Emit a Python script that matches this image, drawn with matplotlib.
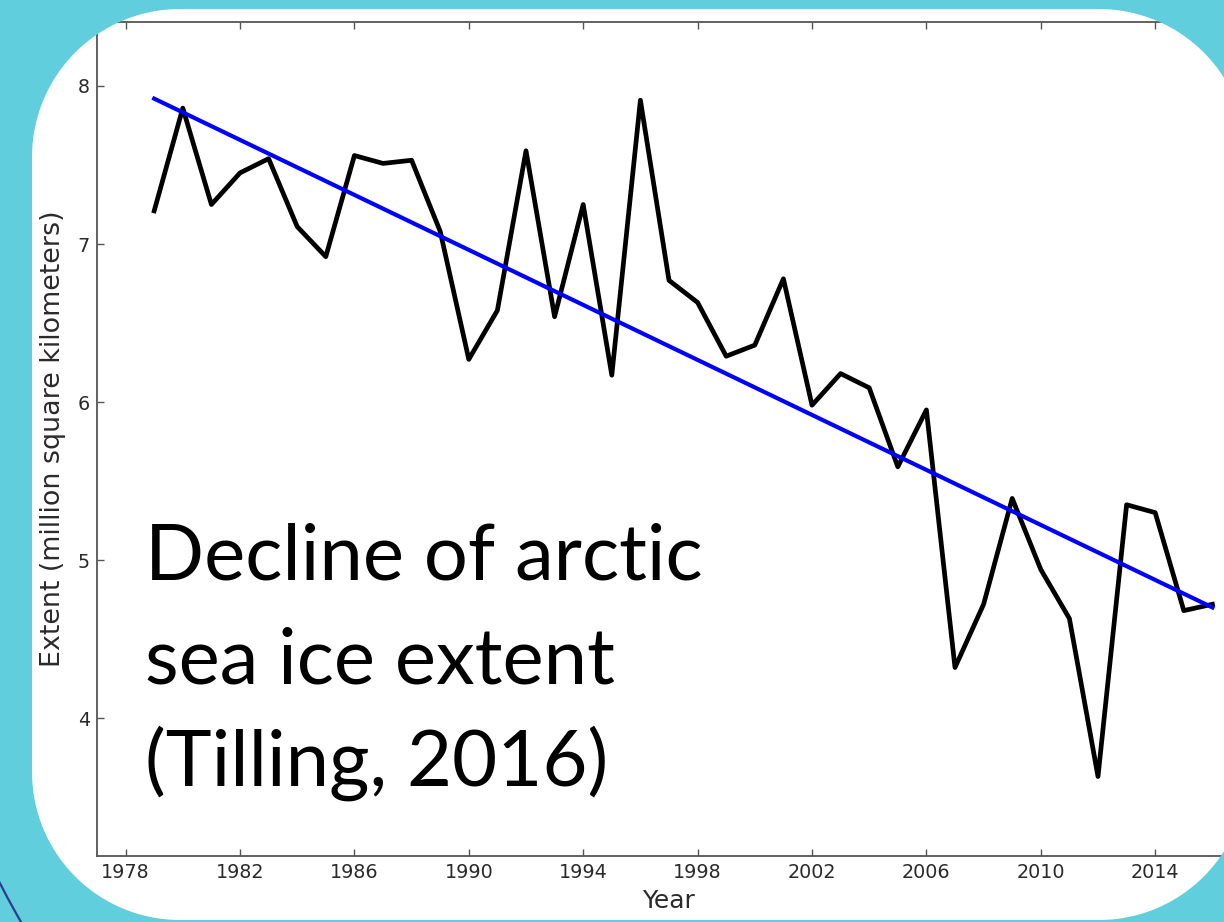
import matplotlib
matplotlib.use("Agg")
import numpy as np
import matplotlib.pyplot as plt
from matplotlib.path import Path
from matplotlib.patches import PathPatch, Arc

# ---------------- data ----------------
years = list(range(1979, 2017))
extent = [7.21, 7.86, 7.25, 7.45, 7.54, 7.11, 6.92, 7.56, 7.51, 7.53,
          7.08, 6.27, 6.58, 7.59, 6.54, 7.25, 6.17, 7.91, 6.77, 6.63,
          6.29, 6.36, 6.78, 5.98, 6.18, 6.09, 5.59, 5.95, 4.32, 4.72,
          5.39, 4.94, 4.63, 3.63, 5.35, 5.30, 4.68, 4.72]
trend_years = [1979, 2016]
trend_values = [7.92, 4.70]
xtick_values = [1978, 1982, 1986, 1990, 1994, 1998, 2002, 2006, 2010, 2014]
ytick_values = [4, 5, 6, 7, 8]
x_label = "Year"
y_label = "Extent (million square kilometers)"
annotation_lines = ["Decline of arctic", "sea ice extent", "(Tilling, 2016)"]

# ---------------- figure ----------------
W, H, DPI = 1224, 922, 100
fig = plt.figure(figsize=(W / DPI, H / DPI), dpi=DPI, facecolor="white")

ax = fig.add_axes([97 / W, (H - 856) / H, (1241 - 97) / W, (856 - 22) / H])
ax.set_facecolor("white")
ax.plot(years, extent, color="black", lw=3.4, zorder=2)
ax.plot(trend_years, trend_values, color="#0000ff", lw=3.0, zorder=3)

ax.set_xlim(1977, 2017)
ax.set_ylim(3.127, 8.405)
ax.set_xticks(xtick_values)
ax.set_xticklabels([str(v) for v in xtick_values])
ax.set_yticks(ytick_values)
ax.set_yticklabels([str(v) for v in ytick_values])
ax.tick_params(direction="in", top=True, right=True, length=5, width=1.0,
               color="#555555", labelsize=13.8, labelcolor="#2a2a2a", pad=5)
for sp in ax.spines.values():
    sp.set_color("#555555")
    sp.set_linewidth(1.3)
ax.set_xlabel(x_label, fontsize=18, color="#2a2a2a", labelpad=5)
ax.set_ylabel(y_label, fontsize=19.4, color="#2a2a2a", labelpad=8.5)

# big annotation text
for i, line in enumerate(annotation_lines):
    fig.text(145 / W, (H - (580 + i * 103)) / H, line, fontsize=56,
             family=["Lato", "DejaVu Sans"], color="black",
             ha="left", va="baseline", zorder=5)

# ---------------- cyan frame overlay with rounded hole ----------------
def rounded_rect_cw(x0, y0, x1, y1, r, n=40):
    pts = []
    corners = [((x0 + r, y1 - r), 180, 90),
               ((x1 - r, y1 - r), 90, 0),
               ((x1 - r, y0 + r), 0, -90),
               ((x0 + r, y0 + r), -90, -180)]
    for (cx, cy), a0, a1 in corners:
        t = np.radians(np.linspace(a0, a1, n))
        pts.extend(zip(cx + r * np.cos(t), cy + r * np.sin(t)))
    return pts

Win, Hin = W / DPI, H / DPI
outer = [(-0.2, -0.2), (Win + 0.2, -0.2), (Win + 0.2, Hin + 0.2), (-0.2, Hin + 0.2)]
inner = rounded_rect_cw(0.32, 0.02, 12.47, Hin - 0.09, 1.48)
verts = outer + [outer[0]] + inner + [inner[0]]
codes = ([Path.MOVETO] + [Path.LINETO] * 3 + [Path.CLOSEPOLY] +
         [Path.MOVETO] + [Path.LINETO] * (len(inner) - 1) + [Path.CLOSEPOLY])
frame = PathPatch(Path(verts, codes), facecolor="#60cedc", edgecolor="none",
                  transform=fig.dpi_scale_trans, zorder=10)
fig.add_artist(frame)

arc = Arc((8.01, Hin - 4.73), 18.0, 18.0, theta1=195, theta2=215,
          color="#2b3d8c", lw=1.6, transform=fig.dpi_scale_trans, zorder=11)
fig.add_artist(arc)

fig.savefig("out.png", dpi=DPI, facecolor="white")
